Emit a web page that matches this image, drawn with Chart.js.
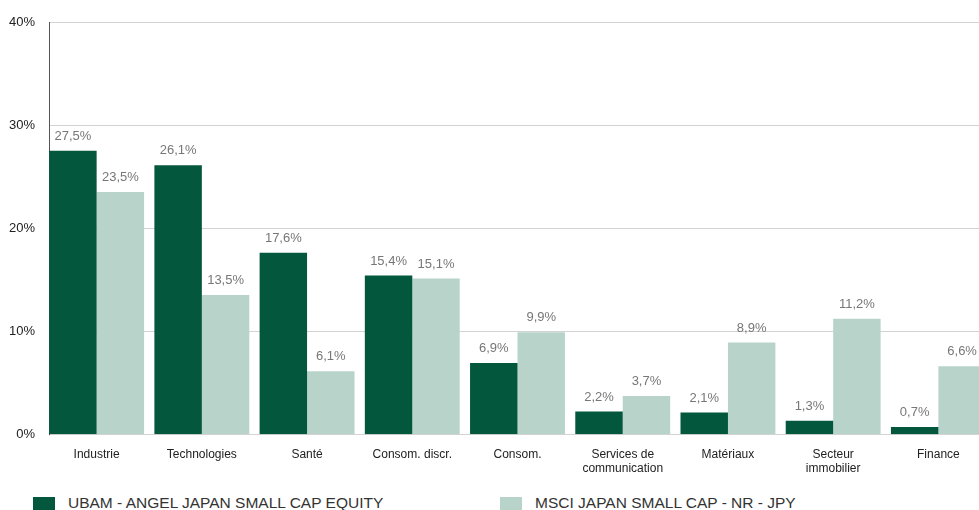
<!DOCTYPE html>
<html>
<head>
<meta charset="utf-8">
<script src="https://cdn.jsdelivr.net/npm/chart.js@4"></script>
<style>
  html, body { margin: 0; padding: 0; background: #fff; overflow: hidden; }
  #wrap { position: relative; width: 991px; height: 530px; }
  #box { position: absolute; left: 0; top: 0; width: 991px; height: 489px; }
  .leg { position: absolute; top: 494px; font: 15.5px "Liberation Sans", Arial, sans-serif; color: #333; white-space: nowrap; }
  .leg i { position: absolute; left: 0; top: 3px; width: 22px; height: 16px; }
  .leg span { position: absolute; left: 35px; top: 0; }
</style>
</head>
<body>
<div id="wrap">
  <div id="box"><canvas id="mychart"></canvas></div>
  <div class="leg" style="left:33px"><i style="background:#03573d"></i><span id="l1"></span></div>
  <div class="leg" style="left:500px"><i style="background:#b8d4ca"></i><span id="l2"></span></div>
</div>
<script>
// sectors along the x-axis
var sectors = [['Industrie'], ['Technologies'], ['Santé'], ['Consom. discr.'], ['Consom.'],
               ['Services de', 'communication'], ['Matériaux'], ['Secteur', 'immobilier'], ['Finance']];
var seriesNames = ['UBAM - ANGEL JAPAN SMALL CAP EQUITY', 'MSCI JAPAN SMALL CAP - NR - JPY'];
// weights in %
var fundValues = [27.5, 26.1, 17.6, 15.4, 6.9, 2.2, 2.1, 1.3, 0.7];
var indexValues = [23.5, 13.5, 6.1, 15.1, 9.9, 3.7, 8.9, 11.2, 6.6];
var yTicks = [0, 10, 20, 30, 40];
var colors = ['#03573d', '#b8d4ca'];

document.getElementById('l1').textContent = seriesNames[0];
document.getElementById('l2').textContent = seriesNames[1];

function pct(v) { return String(v).replace('.', ',') + '%'; }

// grid lines, left axis and value labels
var extras = {
  id: 'extras',
  beforeDatasetsDraw: function (chart) {
    var c = chart.ctx, y = chart.scales.y, a = chart.chartArea;
    var first = chart.getDatasetMeta(0).data[0];
    var x0 = Math.round(first.x - first.width / 2);
    c.save();
    c.lineWidth = 1;
    c.strokeStyle = '#d3d3d3';
    yTicks.forEach(function (t) {
      var py = Math.round(y.getPixelForValue(t)) + 0.5;
      c.beginPath(); c.moveTo(x0, py); c.lineTo(a.right, py); c.stroke();
    });
    c.strokeStyle = '#555';
    c.beginPath();
    c.moveTo(x0 + 0.5, y.getPixelForValue(40)); c.lineTo(x0 + 0.5, y.getPixelForValue(0) + 1);
    c.stroke();
    c.restore();
  },
  afterDatasetsDraw: function (chart) {
    var c = chart.ctx;
    c.save();
    c.font = '13px "Liberation Sans", Arial, sans-serif';
    c.fillStyle = '#777';
    c.textAlign = 'center';
    c.textBaseline = 'bottom';
    chart.data.datasets.forEach(function (ds, i) {
      chart.getDatasetMeta(i).data.forEach(function (bar, j) {
        c.fillText(pct(ds.data[j]), bar.x, bar.y - 8);
      });
    });
    c.restore();
  }
};

var ctx = document.getElementById('mychart');
new Chart(ctx, {
  type: 'bar',
  data: {
    labels: sectors,
    datasets: [
      { label: seriesNames[0], data: fundValues, backgroundColor: colors[0], barPercentage: 1, categoryPercentage: 0.902 },
      { label: seriesNames[1], data: indexValues, backgroundColor: colors[1], barPercentage: 1, categoryPercentage: 0.902 }
    ]
  },
  options: {
    responsive: true,
    maintainAspectRatio: false,
    animation: false,
    layout: { padding: { top: 22, left: 0, right: 0, bottom: 0 } },
    plugins: { legend: { display: false }, tooltip: { enabled: false } },
    scales: {
      x: {
        grid: { display: false, drawTicks: false },
        border: { display: false },
        ticks: { color: '#222', font: { family: '"Liberation Sans", Arial, sans-serif', size: 12 }, padding: 13, maxRotation: 0, autoSkip: false }
      },
      y: {
        min: 0, max: 40,
        afterBuildTicks: function (s) { s.ticks = yTicks.map(function (v) { return { value: v }; }); },
        grid: { display: false, drawTicks: false },
        border: { display: false },
        ticks: { color: '#222', font: { family: '"Liberation Sans", Arial, sans-serif', size: 13 }, padding: 9,
                 callback: function (v) { return v + '%'; } }
      }
    }
  },
  plugins: [extras]
});
</script>
</body>
</html>
